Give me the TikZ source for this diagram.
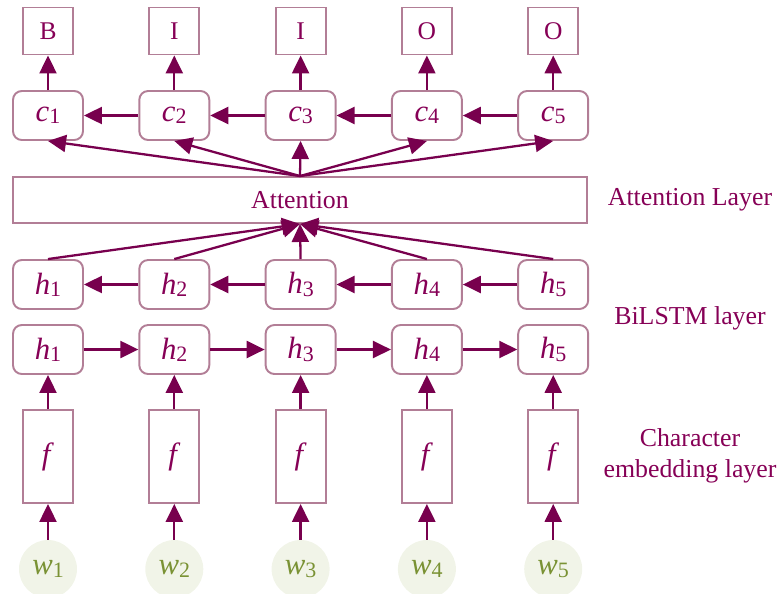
\documentclass[tikz,border=0pt]{standalone}
\usepackage{fontspec}
\setmainfont{Liberation Serif}
\usetikzlibrary{arrows.meta, positioning}
\definecolor{ungugaris}{RGB}{178,126,150}
\definecolor{ungupanah}{RGB}{120,0,78}
\definecolor{unguteks}{RGB}{134,0,86}
\definecolor{hijauteks}{RGB}{122,146,52}
\definecolor{hijaulatar}{RGB}{241,244,232}

% huruf miring dengan indeks di bawah
\newcommand{\vsub}[2]{{\fontsize{17.5}{19}\selectfont\textit{#1}}\raisebox{-1.3pt}{\fontsize{12.5}{13}\selectfont #2}}

\begin{document}
\begin{tikzpicture}[x=0.02cm, y=-0.02cm, font=\fontsize{14.7}{17.6}\selectfont, text=unguteks,
    kotaktag/.style={draw=ungugaris, line width=1.1pt, minimum width=1cm, minimum height=0.94cm, inner sep=0pt, font=\fontsize{14.5}{15}\selectfont},
    kotaksel/.style={draw=ungugaris, line width=1.1pt, rounded corners=5pt, minimum width=1.4cm, minimum height=0.98cm, inner sep=0pt},
    kotakf/.style={draw=ungugaris, line width=1.1pt, minimum width=1cm, minimum height=1.86cm, inner sep=0pt},
    kata/.style={circle, fill=hijaulatar, text=hijauteks, minimum size=1.16cm, inner sep=0pt},
    panah/.style={draw=ungupanah, line width=1.3pt, -{Triangle[length=0.36cm, width=0.34cm]}}]
    \useasboundingbox (0,0) rectangle (784,593);

    \foreach \i/\x/\tag in {1/48/B, 2/174.3/I, 3/300.6/I, 4/426.9/O, 5/553.2/O}
    {
        \node[kotaktag] (o\i) at (\x,31) {\tag};
        \node[kotaksel] (c\i) at (\x,115.5) {\vsub{c}{\i}};
        \node[kotaksel] (ha\i) at (\x,284.5) {\vsub{h}{\i}};
        \node[kotaksel] (hb\i) at (\x,349.5) {\vsub{h}{\i}};
        \node[kotakf] (f\i) at (\x,456.5) {\fontsize{17.5}{19}\selectfont\textit{f}};
        \node[kata] (w\i) at (\x,569) {\vsub{w}{\i}};
    }
    \node[draw=ungugaris, line width=1.1pt, minimum width=11.48cm, minimum height=0.92cm, inner sep=0pt] (att) at (300,200) {Attention};

    % label lapisan
    \node (latt) at (690,200) {Attention Layer};
    \node (lbi) at (690,318) {BiLSTM layer};
    \node[align=center] (lemb) at (690,456) {Character\\embedding layer};

    \foreach \i in {1,...,5}
    {
        \draw[panah] (c\i) -- (o\i);
        \draw[panah] (att.north) -- (c\i.south);
        \draw[panah] (ha\i.north) -- (att.south);
        \draw[panah] (f\i) -- (hb\i);
        \draw[panah] (w\i) -- (f\i);
    }
    \foreach \i/\j in {2/1, 3/2, 4/3, 5/4}
    {
        \draw[panah] (c\i) -- (c\j);
        \draw[panah] (ha\i) -- (ha\j);
        \draw[panah] (hb\j) -- (hb\i);
    }
\end{tikzpicture}
\end{document}
